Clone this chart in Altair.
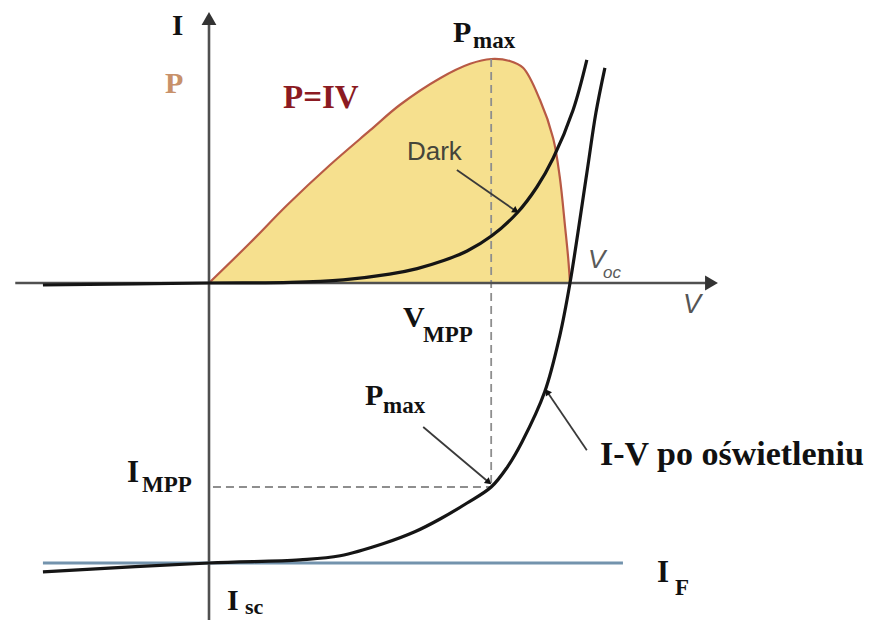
import math
import altair as alt
import pandas as pd

# ---------------- data (V in volts, I and P in arbitrary units) ----------------
dark_V = [-0.276, 0.0, 0.135, 0.223, 0.300, 0.346, 0.390, 0.429, 0.470, 0.512, 0.545,
          0.572, 0.605, 0.628]
dark_I = [-0.25, 0.0, 0.08, 0.4, 1.1, 1.8, 2.8, 4.0, 5.9, 8.75, 12.0,
          15.6, 21.6, 27.9]

light_V = [-0.276, 0.0, 0.151, 0.218, 0.289, 0.342, 0.384, 0.429, 0.469, 0.495, 0.520,
           0.558, 0.583, 0.600, 0.628, 0.643, 0.658]
light_I = [-36.1, -35.0, -34.6, -34.1, -32.6, -31.1, -29.5, -27.5, -25.5, -23.1, -19.9,
           -13.6, -6.6, 0.0, 13.75, 21.25, 26.9]

power_V = [0.0, 0.068, 0.130, 0.201, 0.268, 0.317, 0.384, 0.434, 0.469, 0.500, 0.522,
           0.550, 0.572, 0.583, 0.592, 0.597, 0.600]
power_P = [0.0, 5.0, 9.75, 14.75, 19.1, 22.25, 25.6, 27.4, 28.0, 27.75, 26.9,
           22.9, 18.1, 13.25, 6.9, 3.1, 0.0]

V_MPP = 0.469
I_MPP = -25.5
P_MAX = 28.0
V_OC = 0.600
I_F = -35.0
I_F_SPAN = [-0.276, 0.688]

# ---------------- layout ----------------
W, H = 861, 612
X_DOMAIN = [-0.33407, 1.09695]
Y_DOMAIN = [-42.125, 34.375]
PX_V = W / (X_DOMAIN[1] - X_DOMAIN[0])
PX_I = H / (Y_DOMAIN[1] - Y_DOMAIN[0])

XS = alt.Scale(domain=X_DOMAIN, nice=False, zero=False)
YS = alt.Scale(domain=Y_DOMAIN, nice=False, zero=False)


def X(f):
    return alt.X(f, type="quantitative", scale=XS, axis=None)


def Y(f):
    return alt.Y(f, type="quantitative", scale=YS, axis=None)


AXIS_C = "#505050"
CURVE_C = "#151515"
P_LINE = "#b85a45"
P_FILL = "#f6e08e"
IF_C = "#7393ad"
DASH_C = "#8e8e8e"
SMOOTH = "catmull-rom"

layers = []

# filled power curve
pdf = pd.DataFrame({"V": power_V, "P": power_P})
layers.append(
    alt.Chart(pdf).transform_calculate(base="0").mark_area(color=P_FILL, interpolate=SMOOTH)
    .encode(x=X("V"), y=Y("P"), y2=alt.Y2("base:Q"))
)
layers.append(
    alt.Chart(pdf).mark_line(color=P_LINE, strokeWidth=2.2, interpolate=SMOOTH)
    .encode(x=X("V"), y=Y("P"))
)

# dashed guides to maximum power point
dash_df = pd.DataFrame({
    "V1": [V_MPP, 0.0066], "V2": [V_MPP, V_MPP],
    "I1": [P_MAX, I_MPP], "I2": [I_MPP, I_MPP],
})
layers.append(
    alt.Chart(dash_df).mark_rule(color=DASH_C, strokeWidth=1.8, strokeDash=[8, 5])
    .encode(x=X("V1"), x2=alt.X2("V2"), y=Y("I1"), y2=alt.Y2("I2"))
)

# axes
axes_df = pd.DataFrame({
    "V1": [-0.322, 0.0], "V2": [0.83, 0.0],
    "I1": [0.0, Y_DOMAIN[0]], "I2": [0.0, 32.5],
})
layers.append(
    alt.Chart(axes_df).mark_rule(color=AXIS_C, strokeWidth=2.6)
    .encode(x=X("V1"), x2=alt.X2("V2"), y=Y("I1"), y2=alt.Y2("I2"))
)
heads_df = pd.DataFrame({"V": [0.0, 0.8352], "I": [33.06, 0.0], "ang": [0, 90]})
layers.append(
    alt.Chart(heads_df).mark_point(shape="triangle-up", filled=True, size=220, opacity=1,
                                   color="#333333")
    .encode(x=X("V"), y=Y("I"), angle=alt.Angle("ang:Q", scale=None))
)

# photocurrent line I_F
if_df = pd.DataFrame({"V1": [I_F_SPAN[0]], "V2": [I_F_SPAN[1]], "I": [I_F]})
layers.append(
    alt.Chart(if_df).mark_rule(color=IF_C, strokeWidth=3.2)
    .encode(x=X("V1"), x2=alt.X2("V2"), y=Y("I"))
)

# dark and illuminated I-V curves
ddf = pd.DataFrame({"V": dark_V, "I": dark_I})
ldf = pd.DataFrame({"V": light_V, "I": light_I})
for d in (ddf, ldf):
    layers.append(
        alt.Chart(d).mark_line(color=CURVE_C, strokeWidth=3.2, interpolate=SMOOTH)
        .encode(x=X("V"), y=Y("I"))
    )

# annotation arrows
arrows = pd.DataFrame({
    "V1": [0.412, 0.356, 0.628],
    "I1": [14.125, -18.0, -20.9],
    "V2": [0.510, 0.465, 0.562],
    "I2": [9.0, -24.9, -13.6],
})
arrows["ang"] = [
    math.degrees(math.atan2((r.V2 - r.V1) * PX_V, (r.I2 - r.I1) * PX_I)) % 360
    for r in arrows.itertuples()
]
layers.append(
    alt.Chart(arrows).mark_rule(color="#3a3a3a", strokeWidth=1.8)
    .encode(x=X("V1"), x2=alt.X2("V2"), y=Y("I1"), y2=alt.Y2("I2"))
)
layers.append(
    alt.Chart(arrows).mark_point(shape="triangle-up", filled=True, size=55, opacity=1,
                                 color="#111111")
    .encode(x=X("V2"), y=Y("I2"), angle=alt.Angle("ang:Q", scale=None))
)

# text labels
serif_labels = pd.DataFrame([
    ("I", -0.0615, 31.0, 29, "#111111"),
    ("P", -0.0731, 23.75, 30, "#c8916a"),
    ("P=IV", 0.123, 21.875, 33, "#8b1a22"),
    ("P", 0.4055, 30.125, 30, "#111111"),
    ("max", 0.4388, 29.375, 23, "#111111"),
    ("V", 0.3224, -5.5, 30, "#111111"),
    ("MPP", 0.3557, -7.375, 23, "#111111"),
    ("P", 0.2593, -15.25, 30, "#111111"),
    ("max", 0.2892, -16.25, 23, "#111111"),
    ("I-V po oświetleniu", 0.6499, -22.75, 34, "#111111"),
    ("I", -0.1363, -24.875, 31, "#111111"),
    ("MPP", -0.1114, -26.125, 23, "#111111"),
    ("I", 0.7446, -37.375, 31, "#111111"),
    ("F", 0.7745, -39.0, 23, "#111111"),
    ("I", 0.0299, -40.9, 30, "#111111"),
    ("sc", 0.0598, -41.4, 22, "#111111"),
], columns=["t", "V", "I", "fs", "c"])

sans_labels = pd.DataFrame([
    ("Dark", 0.329, 15.375, 26, "#45453a", "normal"),
    ("V", 0.630, 1.875, 26, "#5a5a5a", "italic"),
    ("oc", 0.655, 0.625, 17, "#5a5a5a", "italic"),
    ("V", 0.788, -3.75, 27, "#555555", "italic"),
], columns=["t", "V", "I", "fs", "c", "st"])

layers.append(
    alt.Chart(serif_labels).mark_text(font="Liberation Serif", fontWeight="bold",
                                      align="left", baseline="alphabetic")
    .encode(x=X("V"), y=Y("I"), text="t:N",
            size=alt.Size("fs:Q", scale=None), color=alt.Color("c:N", scale=None))
)
for st in ("normal", "italic"):
    sub = sans_labels[sans_labels.st == st]
    layers.append(
        alt.Chart(sub).mark_text(font="Liberation Sans", fontStyle=st,
                                 align="left", baseline="alphabetic")
        .encode(x=X("V"), y=Y("I"), text="t:N",
                size=alt.Size("fs:Q", scale=None), color=alt.Color("c:N", scale=None))
    )

chart = (
    alt.layer(*layers)
    .properties(width=W, height=H, padding=0, background="white",
                autosize=alt.AutoSizeParams(type="none"))
    .configure_view(stroke=None)
)

chart.save("out.html", embed_options={"renderer": "svg", "actions": False})
